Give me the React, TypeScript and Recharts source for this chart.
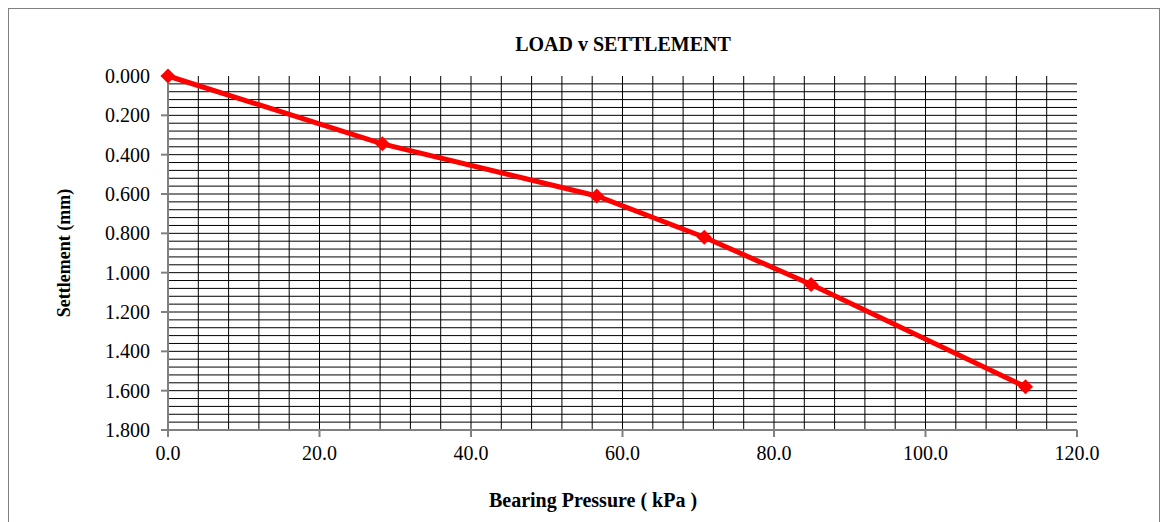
import React from 'react';
import { LineChart, Line, XAxis, YAxis, CartesianGrid } from 'recharts';

// bearing pressure (kPa) and settlement (mm) readings
const pressure = [0, 28.3, 56.6, 70.8, 84.9, 113.2];
const settlement = [0, 0.345, 0.61, 0.82, 1.06, 1.58];

const xTicks = [0, 20, 40, 60, 80, 100, 120];
const yTicks = [0, 0.2, 0.4, 0.6, 0.8, 1.0, 1.2, 1.4, 1.6, 1.8];

// minor grid spacing
const xGridStep = 4;
const yGridStep = 0.04;
const xGrid = Array.from({ length: 29 }, (_, i) => (i + 1) * xGridStep);
const yGrid = Array.from({ length: 44 }, (_, i) => +((i + 1) * yGridStep).toFixed(2));

const data = pressure.map((p, i) => ({ p, s: settlement[i] }));

const FONT = '"Liberation Serif", "Times New Roman", serif';
const AXIS = '#808080';

const Diamond = (props: any) => {
  const { cx, cy } = props;
  if (cx == null || cy == null) return null;
  const r = 7.5;
  return (
    <polygon
      points={`${cx},${cy - r} ${cx + r},${cy} ${cx},${cy + r} ${cx - r},${cy}`}
      fill="#ff0000"
      stroke="none"
    />
  );
};

export default function App() {
  return (
    <div
      style={{
        position: 'relative',
        width: 1150,
        height: 520,
        border: '1px solid #808080',
        fontFamily: FONT,
        background: '#fff',
      }}
    >
      <div
        style={{
          position: 'absolute',
          left: 0,
          width: 1228,
          top: 24,
          textAlign: 'center',
          fontWeight: 'bold',
          fontSize: 20,
          color: '#000',
        }}
      >
        LOAD v SETTLEMENT
      </div>

      <div
        style={{
          position: 'absolute',
          left: 55,
          top: 244,
          width: 0,
          height: 0,
        }}
      >
        <div
          style={{
            position: 'absolute',
            transform: 'translate(-50%, -50%) rotate(-90deg)',
            whiteSpace: 'nowrap',
            fontWeight: 'bold',
            fontSize: 18,
          }}
        >
          Settlement (mm)
        </div>
      </div>

      <div
        style={{
          position: 'absolute',
          left: 0,
          width: 1168,
          top: 480,
          textAlign: 'center',
          fontWeight: 'bold',
          fontSize: 20,
        }}
      >
        Bearing Pressure ( kPa )
      </div>

      <LineChart
        width={1150}
        height={512}
        data={data}
        margin={{ top: 67, right: 82, bottom: 61, left: 10 }}
        style={{ position: 'absolute', left: 0, top: 0 }}
      >
        <CartesianGrid
          stroke="#000"
          strokeWidth={1}
          verticalValues={xGrid}
          horizontalValues={yGrid}
          fill="none"
        />
        <XAxis
          dataKey="p"
          type="number"
          domain={[0, 120]}
          ticks={xTicks}
          tickFormatter={(v: number) => v.toFixed(1)}
          axisLine={{ stroke: AXIS, strokeWidth: 2 }}
          tickLine={{ stroke: AXIS, strokeWidth: 2 }}
          tickSize={7}
          tickMargin={9}
          height={30}
          interval={0}
          tick={{ fill: '#000', fontSize: 20, fontFamily: FONT }}
        />
        <YAxis
          type="number"
          reversed
          domain={[0, 1.8]}
          ticks={yTicks}
          tickFormatter={(v: number) => v.toFixed(3)}
          axisLine={{ stroke: AXIS, strokeWidth: 2 }}
          tickLine={{ stroke: AXIS, strokeWidth: 2 }}
          tickSize={7}
          tickMargin={11}
          width={149}
          interval={0}
          tick={{ fill: '#000', fontSize: 20, fontFamily: FONT }}
        />
        <Line
          dataKey="s"
          stroke="#ff0000"
          strokeWidth={5}
          dot={<Diamond />}
          activeDot={false}
          isAnimationActive={false}
          type="linear"
        />
      </LineChart>
    </div>
  );
}
